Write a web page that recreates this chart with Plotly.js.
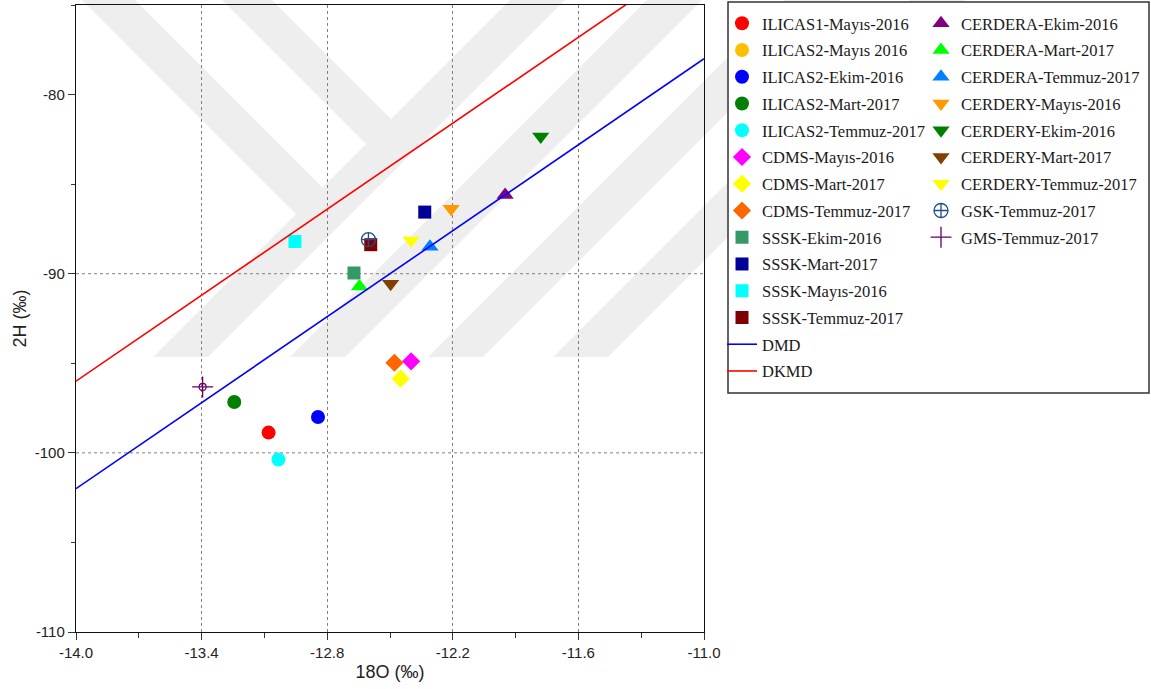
<!DOCTYPE html>
<html>
<head>
<meta charset="utf-8">
<script src="https://cdn.plot.ly/plotly-3.0.1.min.js"></script>
<style>html,body{margin:0;padding:0;background:#fff;}#chart{width:1151px;height:689px;}</style>
</head>
<body>
<div id="chart"></div>
<script>
// ---- data ----
const seriesNames = [
  'ILICAS1-Mayıs-2016','ILICAS2-Mayıs 2016','ILICAS2-Ekim-2016','ILICAS2-Mart-2017','ILICAS2-Temmuz-2017',
  'CDMS-Mayıs-2016','CDMS-Mart-2017','CDMS-Temmuz-2017',
  'SSSK-Ekim-2016','SSSK-Mart-2017','SSSK-Mayıs-2016','SSSK-Temmuz-2017',
  'CERDERA-Ekim-2016','CERDERA-Mart-2017','CERDERA-Temmuz-2017',
  'CERDERY-Mayıs-2016','CERDERY-Ekim-2016','CERDERY-Mart-2017','CERDERY-Temmuz-2017',
  'GSK-Temmuz-2017','GMS-Temmuz-2017'
];
const d18O = [-13.08, null, -12.844, -13.244, -13.033,
  -12.399, -12.449, -12.479,
  -12.672, -12.334, -12.954, -12.592,
  -11.950, -12.646, -12.309,
  -12.208, -11.780, -12.497, -12.399,
  -12.603, -13.395];
const d2H = [-98.87, null, -98.0, -97.16, -100.37,
  -94.89, -95.86, -94.97,
  -89.96, -86.56, -88.2, -88.38,
  -85.6, -90.72, -88.5,
  -86.38, -82.34, -90.56, -88.14,
  -88.1, -96.32];
const lineNames = ['DMD','DKMD'];
const lineX = [[-14, -11], [-14, -11]];
const lineY = [[-102, -78], [-96, -72]];
const gridY = [-100, -90];
const xTickVals = [-14, -13.4, -12.8, -12.2, -11.6, -11];
const xTickText = ['-14.0', '-13.4', '-12.8', '-12.2', '-11.6', '-11.0'];
const xMinorVals = [-13.7, -13.1, -12.5, -11.9, -11.3];
const yTickVals = [-110, -100, -90, -80];
const yTickText = ['-110', '-100', '-90', '-80'];

// ---- styles ----
const colors = ['#ff0000','#ffc000','#0000ff','#008000','#00ffff',
  '#ff00ff','#ffff00','#ff6600',
  '#339966','#000099','#00ffff','#800000',
  '#800080','#00ff00','#0080ff',
  '#ff9900','#008000','#804000','#ffff00',
  '#1f4e8c','#660066'];
const symbols = ['circle','circle','circle','circle','circle',
  'diamond','diamond','diamond',
  'square','square','square','square',
  'triangle-up','triangle-up','triangle-up',
  'triangle-down','triangle-down','triangle-down','triangle-down',
  'circle-cross-open','cross-thin-open'];
const sizes = [14,14,14,14,14, 14,14,14, 13,13,13,13, 15,15,15, 15,15,15,15, 14,15];
const legendOf = ['legend','legend','legend','legend','legend','legend','legend','legend',
  'legend','legend','legend','legend',
  'legend2','legend2','legend2','legend2','legend2','legend2','legend2','legend2','legend2'];
const lineColors = ['#0000ff','#ff0000'];

const traces = [];
seriesNames.forEach((n, i) => {
  const open = symbols[i].indexOf('open') >= 0;
  traces.push({
    type: 'scatter', mode: 'markers', name: n,
    x: [d18O[i]], y: [d2H[i]],
    legend: legendOf[i], legendgroup: 'g' + i,
    marker: {
      symbol: symbols[i], size: sizes[i], color: colors[i],
      line: open ? {color: colors[i], width: 1.3} : {width: 0}
    }
  });
});
// small ring for the GMS marker
traces.push({
  type: 'scatter', mode: 'markers', x: [d18O[20]], y: [d2H[20]], showlegend: false, hoverinfo: 'skip',
  marker: {symbol: 'circle-open', size: 7, color: colors[20], line: {color: colors[20], width: 1.2}}
});
lineNames.forEach((n, i) => {
  traces.push({
    type: 'scatter', mode: 'lines', name: n, x: lineX[i], y: lineY[i],
    legend: 'legend', legendgroup: 'l' + i,
    line: {color: lineColors[i], width: 1.6}
  });
});

// ---- layout geometry ----
const W = 1151, H = 689, L = 76, R = 704, T = 5, B = 632;
const px2x = p => (p - L) / (R - L);
const py2y = p => (B - p) / (B - T);
function poly(pts) {
  return pts.map((p, k) => (k ? 'L' : 'M') + px2x(p[0]).toFixed(4) + ',' + py2y(p[1]).toFixed(4)).join(' ') + ' Z';
}
const shapes = [];
// faint background watermark
const wm = '#eeeeee';
[153, 290, 428, 553].forEach(b => {
  shapes.push({type: 'path', xref: 'paper', yref: 'paper', layer: 'below', fillcolor: wm, line: {width: 0},
    path: poly([[b, 357], [b + 55, 357], [b + 55 + 357, 0], [b + 357, 0]])});
});
shapes.push({type: 'path', xref: 'paper', yref: 'paper', layer: 'below', fillcolor: wm, line: {width: 0},
  path: poly([[82, 0], [135, 0], [322.5, 187.5], [296, 214]])});
shapes.push({type: 'path', xref: 'paper', yref: 'paper', layer: 'below', fillcolor: wm, line: {width: 0},
  path: poly([[222, 0], [272, 0], [391, 119], [366, 144]])});
// legend box
shapes.push({type: 'rect', xref: 'paper', yref: 'paper', layer: 'below',
  x0: px2x(728), x1: px2x(1149), y0: py2y(393), y1: py2y(2),
  fillcolor: '#ffffff', line: {color: '#333333', width: 1.5}});
// horizontal grid lines
gridY.forEach(g => {
  shapes.push({type: 'line', xref: 'paper', yref: 'y', layer: 'below', x0: 0, x1: 1, y0: g, y1: g,
    line: {color: '#808080', width: 1, dash: 'dot'}});
});

const tickFont = {family: 'Liberation Sans, Arial, sans-serif', size: 15, color: '#222'};
const legFont = {family: 'Liberation Serif, Times New Roman, serif', size: 16.5, color: '#1a1a1a'};
const titleFont = {family: 'Liberation Sans, Arial, sans-serif', size: 18, color: '#222'};

const layout = {
  width: W, height: H,
  margin: {l: L, r: W - R, t: T, b: H - B, pad: 0},
  paper_bgcolor: '#ffffff', plot_bgcolor: 'rgba(0,0,0,0)',
  showlegend: true,
  xaxis: {
    range: [-14, -11], tickmode: 'array', tickvals: xTickVals, ticktext: xTickText,
    ticks: 'outside', ticklen: 7, tickcolor: '#333', tickfont: tickFont,
    showline: true, linecolor: '#111', linewidth: 1.2, mirror: true,
    showgrid: true, gridcolor: '#808080', gridwidth: 1, griddash: 'dot', zeroline: false,
    minor: {tickmode: 'array', tickvals: xMinorVals, ticks: 'outside', ticklen: 5, tickcolor: '#333', showgrid: false},
    title: {text: '18O (‰)', font: titleFont, standoff: 5}
  },
  yaxis: {
    range: [-110, -75], tickmode: 'array', tickvals: yTickVals, ticktext: yTickText,
    ticks: 'outside', ticklen: 7, tickcolor: '#333', tickfont: tickFont,
    showline: true, linecolor: '#111', linewidth: 1.2, mirror: true,
    showgrid: false, zeroline: false,
    minor: {dtick: 5, ticks: 'outside', ticklen: 4, tickcolor: '#333', showgrid: false},
    title: {text: '2H (‰)', font: titleFont, standoff: 3}
  },
  legend: {x: px2x(722), y: py2y(6), xanchor: 'left', yanchor: 'top', bgcolor: 'rgba(0,0,0,0)',
    borderwidth: 0, font: legFont, traceorder: 'grouped', tracegroupgap: 2.3},
  legend2: {x: px2x(921), y: py2y(6), xanchor: 'left', yanchor: 'top', bgcolor: 'rgba(0,0,0,0)',
    borderwidth: 0, font: legFont, traceorder: 'grouped', tracegroupgap: 2.3},
  shapes: shapes
};

Plotly.newPlot('chart', traces, layout, {displayModeBar: false, staticPlot: true});
</script>
</body>
</html>
